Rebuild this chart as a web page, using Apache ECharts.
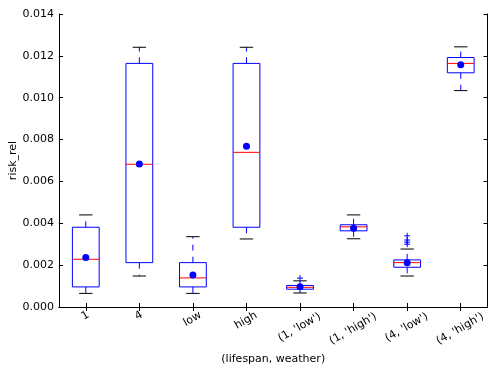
<!DOCTYPE html>
<html>
<head>
<meta charset="utf-8">
<script src="https://cdn.jsdelivr.net/npm/echarts@6/dist/echarts.min.js"></script>
<style>
html,body{margin:0;padding:0;background:#fff;}
#chart{width:488px;height:370px;}
</style>
</head>
<body>
<div id="chart"></div>
<script>
// ---- data ----
const categories = ['1', '4', 'low', 'high', "(1, 'low')", "(1, 'high')", "(4, 'low')", "(4, 'high')"];
const whiskerLow  = [0.00065, 0.00148, 0.00065, 0.00325, 0.00067, 0.00326, 0.00148, 0.01034];
const q1          = [0.00096, 0.00212, 0.00096, 0.00381, 0.00085, 0.00364, 0.00190, 0.01119];
const median      = [0.00228, 0.00682, 0.00139, 0.00739, 0.00094, 0.00383, 0.00212, 0.01164];
const q3          = [0.00381, 0.01164, 0.00212, 0.01164, 0.00103, 0.00393, 0.00225, 0.01192];
const whiskerHigh = [0.00440, 0.01241, 0.00336, 0.01241, 0.00125, 0.00440, 0.00277, 0.01243];
const means       = [0.00237, 0.00683, 0.00153, 0.00768, 0.00097, 0.00376, 0.00212, 0.01157];
const outliers    = [[], [], [], [], [0.00138], [], [0.0034, 0.0032, 0.0031, 0.0030], []];
const yTicks = [0, 0.002, 0.004, 0.006, 0.008, 0.010, 0.012, 0.014];
const yLabel = 'risk_rel';
const xLabel = '(lifespan, weather)';

// ---- rendering ----
const FONT = 'DejaVu Sans';
const FS = 11;
const measure = (() => {
  const c = document.createElement('canvas').getContext('2d');
  c.font = FS + 'px "' + FONT + '"';
  return t => c.measureText(t).width;
})();
// matplotlib-like centring of 30-degree rotated labels
const ROT = 30, LH = 13;
const catData = categories.map(c => {
  const w = measure(c);
  const Y = 7.5 + 0.29 * w;
  const s = Math.sin(ROT * Math.PI / 180), co = Math.cos(ROT * Math.PI / 180);
  return { value: c, textStyle: {
    align: 'center', verticalAlign: 'top',
    color: '#000', fontFamily: FONT, fontSize: FS,
    padding: [Math.max(0, Y * co - LH / 2), 2 * Y * s, 0, 0] } };
});

const boxData = categories.map((c, i) => [i, whiskerLow[i], q1[i], median[i], q3[i], whiskerHigh[i], means[i]]);
const meanData = categories.map((c, i) => [i, means[i]]);

const BLUE = '#0000ff', RED = '#ff0000', BLACK = '#000000';
const yMin = yTicks[0], yMax = yTicks[yTicks.length - 1], yStep = yTicks[1] - yTicks[0];

function renderBox(params, api) {
  const i = api.value(0);
  const cx = api.coord([i, 0])[0];
  const band = api.size([1, 0])[0];
  const bw = band * 0.5, cw = band * 0.25;
  const Y = v => api.coord([i, v])[1];
  const yLo = Y(api.value(1)), yQ1 = Y(api.value(2)), yMed = Y(api.value(3)), yQ3 = Y(api.value(4)), yHi = Y(api.value(5));
  const children = [];
  children.push({ type: 'line', shape: { x1: cx, y1: yQ3, x2: cx, y2: yHi }, style: { stroke: BLUE, lineWidth: 1, lineDash: [6, 6] } });
  children.push({ type: 'line', shape: { x1: cx, y1: yQ1, x2: cx, y2: yLo }, style: { stroke: BLUE, lineWidth: 1, lineDash: [6, 6] } });
  children.push({ type: 'line', shape: { x1: cx - cw / 2, y1: yHi, x2: cx + cw / 2, y2: yHi }, style: { stroke: BLACK, lineWidth: 1 } });
  children.push({ type: 'line', shape: { x1: cx - cw / 2, y1: yLo, x2: cx + cw / 2, y2: yLo }, style: { stroke: BLACK, lineWidth: 1 } });
  children.push({ type: 'rect', shape: { x: cx - bw / 2, y: yQ3, width: bw, height: yQ1 - yQ3 }, style: { fill: 'none', stroke: BLUE, lineWidth: 1 } });
  children.push({ type: 'line', shape: { x1: cx - bw / 2, y1: yMed, x2: cx + bw / 2, y2: yMed }, style: { stroke: RED, lineWidth: 1 } });
  (outliers[i] || []).forEach(v => {
    const oy = Y(v);
    children.push({ type: 'line', shape: { x1: cx - 3, y1: oy, x2: cx + 3, y2: oy }, style: { stroke: BLUE, lineWidth: 1 } });
    children.push({ type: 'line', shape: { x1: cx, y1: oy - 3, x2: cx, y2: oy + 3 }, style: { stroke: BLUE, lineWidth: 1 } });
  });
  return { type: 'group', children };
}

const axisLineStyle = { show: true, lineStyle: { color: BLACK, width: 1 } };
const tickStyle = { show: true, inside: true, length: 4, lineStyle: { color: BLACK, width: 1 } };

const chart = echarts.init(document.getElementById('chart'), null, { renderer: 'canvas' });
chart.setOption({
  animation: false,
  backgroundColor: '#ffffff',
  textStyle: { fontFamily: FONT },
  grid: { left: 59, right: 0.5, top: 14, bottom: 63, containLabel: false, outerBoundsMode: 'none' },
  xAxis: [{
    type: 'category',
    data: catData,
    position: 'bottom',
    boundaryGap: true,
    axisLine: axisLineStyle,
    axisTick: Object.assign({ alignWithLabel: true, interval: 0 }, tickStyle),
    axisLabel: { interval: 0, rotate: ROT, align: 'center', verticalAlign: 'top', margin: 0, color: BLACK, fontFamily: FONT, fontSize: FS, hideOverlap: false },
    splitLine: { show: false },
    name: xLabel,
    nameLocation: 'middle',
    nameGap: 47,
    nameMoveOverlap: false,
    nameTextStyle: { color: BLACK, fontFamily: FONT, fontSize: FS }
  }, {
    type: 'category',
    data: categories,
    position: 'top',
    boundaryGap: true,
    axisLine: axisLineStyle,
    axisTick: Object.assign({ alignWithLabel: true, interval: 0 }, tickStyle),
    axisLabel: { show: false },
    splitLine: { show: false }
  }],
  yAxis: [{
    type: 'value',
    min: yMin, max: yMax, interval: yStep,
    position: 'left',
    axisLine: axisLineStyle,
    axisTick: tickStyle,
    axisLabel: { margin: 5, color: BLACK, fontFamily: FONT, fontSize: FS, formatter: v => v.toFixed(3) },
    splitLine: { show: false },
    name: yLabel,
    nameLocation: 'middle',
    nameGap: 40,
    nameRotate: 90,
    nameMoveOverlap: false,
    nameTextStyle: { color: BLACK, fontFamily: FONT, fontSize: FS }
  }, {
    type: 'value',
    min: yMin, max: yMax, interval: yStep,
    position: 'right',
    axisLine: axisLineStyle,
    axisTick: tickStyle,
    axisLabel: { show: false },
    splitLine: { show: false }
  }],
  series: [{
    type: 'custom',
    renderItem: renderBox,
    data: boxData,
    encode: { x: 0, y: [1, 2, 3, 4, 5] },
    z: 2
  }, {
    type: 'scatter',
    data: meanData,
    symbol: 'circle',
    symbolSize: 7,
    itemStyle: { color: BLUE, opacity: 1 },
    z: 3
  }]
});
</script>
</body>
</html>
